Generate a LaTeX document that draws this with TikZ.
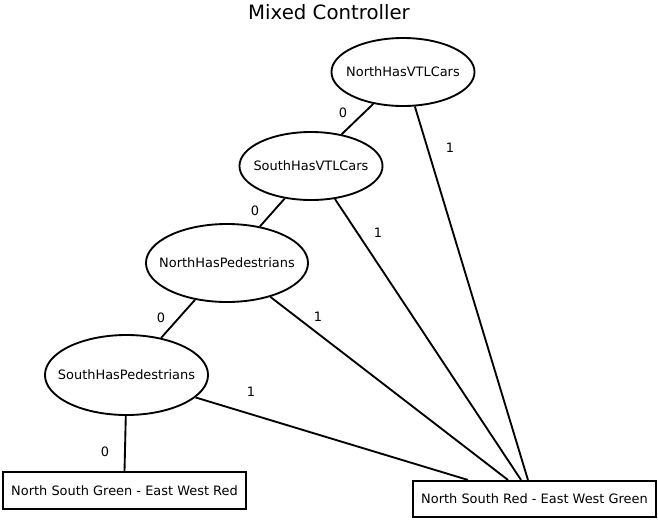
\documentclass[tikz,border=0pt]{standalone}
\usepackage{fontspec}
\setmainfont{DejaVu Sans}
\usetikzlibrary{shapes.geometric}
\newcommand{\diagfont}{\fontsize{9.7}{11.6}\selectfont}

\begin{document}
\begin{tikzpicture}[
    x=0.75pt,y=-0.75pt,
    test/.style={ellipse,draw,line width=1.4pt,inner xsep=-20pt,inner ysep=0pt,font=\diagfont},
    outcome/.style={rectangle,draw,line width=1.4pt,inner sep=0pt,font=\diagfont,
      minimum width=182.5pt,minimum height=27.2pt},
    branch/.style={draw=none,inner sep=0pt,font=\diagfont},
    edge/.style={line width=1.4pt}
  ]
    \useasboundingbox (0,0) rectangle (658,519);

    % Title
    \node[draw=none,inner sep=0pt,font=\fontsize{14.8}{17}\selectfont] (title)
      at (329,12) {Mixed Controller};

    % Tests, one below the other
    \node[test,minimum width=107.3pt,minimum height=51pt] (nhv) at (403,72) {NorthHasVTLCars};
    \node[test,minimum width=107.3pt,minimum height=51pt] (shv) at (311,166) {SouthHasVTLCars};
    \node[test,minimum width=121.5pt,minimum height=58.5pt] (nhp) at (227,263) {NorthHasPedestrians};
    \node[test,minimum width=122.3pt,minimum height=60pt] (shp) at (126.5,375) {SouthHasPedestrians};

    % Outcomes
    \node[outcome] (nsg) at (124.5,490.5) {North South Green - East West Red};
    \node[outcome] (nsr) at (534.5,499) {North South Red - East West Green};

    % 0 branches
    \draw[edge] (nhv.-133) -- (shv.46);
    \draw[edge] (shv.-129) -- (nhp.48);
    \draw[edge] (nhp.-131) -- (shp.47);
    \draw[edge] (shp.-91) -- (nsg.north);

    % 1 branches, all into the red outcome
    \draw[edge] (nhv.-71) -- ([xshift=-4.9pt]nsr.north);
    \draw[edge] (shv.-54) -- ([xshift=-10.1pt]nsr.north);
    \draw[edge] (nhp.-38) -- ([xshift=-19.9pt]nsr.north);
    \draw[edge] (shp.-18) -- ([xshift=-49.9pt]nsr.north);

    % Branch labels
    \node[branch] (l0a) at (343,113) {0};
    \node[branch] (l1a) at (450,148) {1};
    \node[branch] (l0b) at (255,211) {0};
    \node[branch] (l1b) at (378,233) {1};
    \node[branch] (l0c) at (161,318) {0};
    \node[branch] (l1c) at (318,317) {1};
    \node[branch] (l1d) at (251,392) {1};
    \node[branch] (l0d) at (105,452) {0};

  \end{tikzpicture}
\end{document}
